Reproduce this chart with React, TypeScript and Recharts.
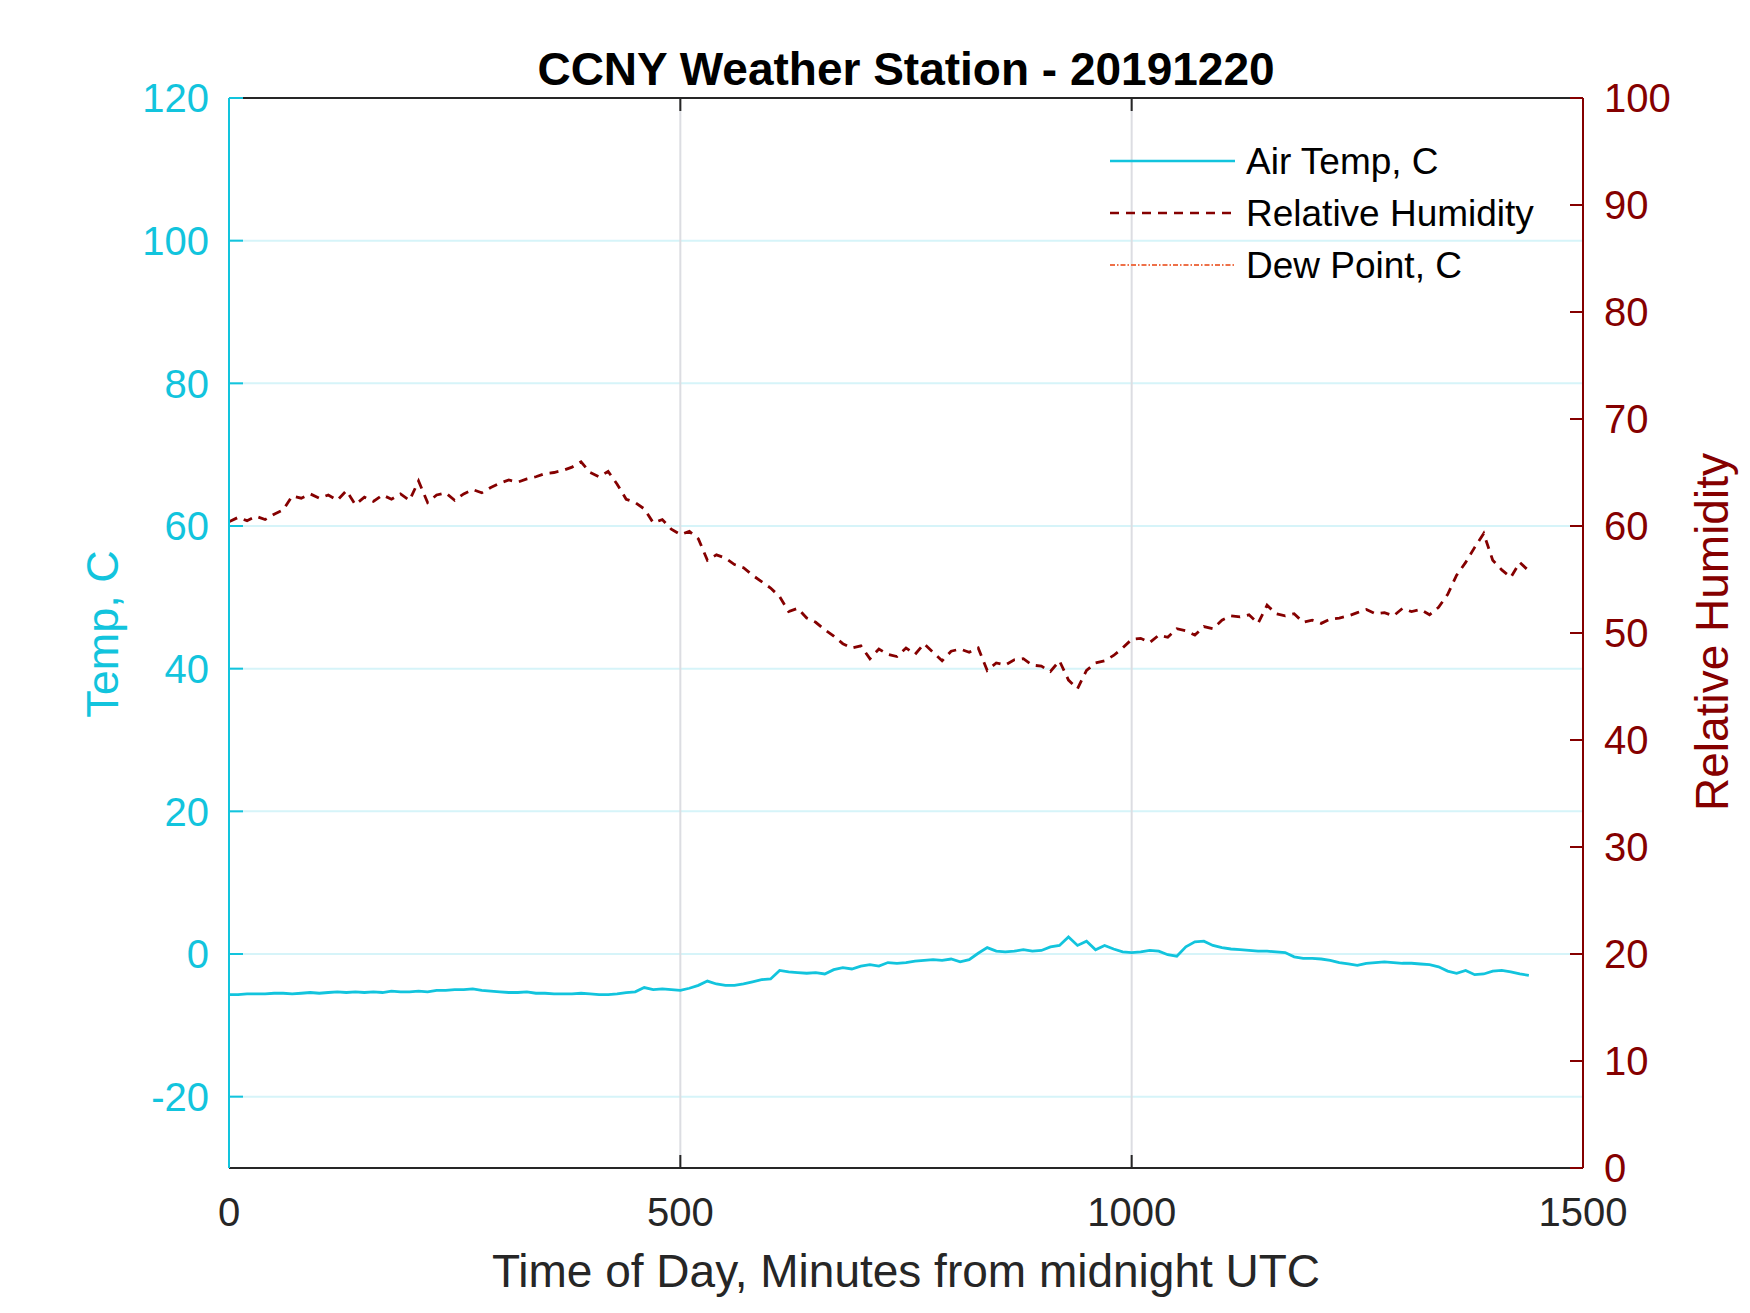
import { CartesianGrid, Legend, Line, LineChart, XAxis, YAxis } from "recharts";

const CYAN = "#12C4DD";
const DARK_RED = "#850000";
const ORANGE = "#EE7048";
const INK = "#262626";
const FONT = "'Liberation Sans', Arial, Helvetica, sans-serif";

// minutes from midnight UTC, sampled every 10 min
const minutes = [
  0, 10, 20, 30, 40, 50, 60, 70, 80, 90, 100, 110, 120, 130, 140, 150, 160, 170, 180, 190,
  200, 210, 220, 230, 240, 250, 260, 270, 280, 290, 300, 310, 320, 330, 340, 350, 360, 370, 380, 390,
  400, 410, 420, 430, 440, 450, 460, 470, 480, 490, 500, 510, 520, 530, 540, 550, 560, 570, 580, 590,
  600, 610, 620, 630, 640, 650, 660, 670, 680, 690, 700, 710, 720, 730, 740, 750, 760, 770, 780, 790,
  800, 810, 820, 830, 840, 850, 860, 870, 880, 890, 900, 910, 920, 930, 940, 950, 960, 970, 980, 990,
  1000, 1010, 1020, 1030, 1040, 1050, 1060, 1070, 1080, 1090, 1100, 1110, 1120, 1130, 1140, 1150, 1160, 1170, 1180, 1190,
  1200, 1210, 1220, 1230, 1240, 1250, 1260, 1270, 1280, 1290, 1300, 1310, 1320, 1330, 1340, 1350, 1360, 1370, 1380, 1390,
  1400, 1410, 1420, 1430, 1440,
];

const airTemp = [
  -5.7, -5.7, -5.6, -5.6, -5.6, -5.5, -5.5, -5.6, -5.5, -5.4, -5.5, -5.4, -5.3, -5.4, -5.3, -5.4, -5.3, -5.4, -5.2, -5.3,
  -5.3, -5.2, -5.3, -5.1, -5.1, -5.0, -5.0, -4.9, -5.1, -5.2, -5.3, -5.4, -5.4, -5.3, -5.5, -5.5, -5.6, -5.6, -5.6, -5.5,
  -5.6, -5.7, -5.7, -5.6, -5.4, -5.3, -4.7, -5.0, -4.9, -5.0, -5.1, -4.8, -4.4, -3.8, -4.2, -4.4, -4.4, -4.2, -3.9, -3.6,
  -3.5, -2.3, -2.5, -2.6, -2.7, -2.6, -2.8, -2.2, -1.9, -2.1, -1.7, -1.5, -1.7, -1.2, -1.3, -1.2, -1.0, -0.9, -0.8, -0.9,
  -0.7, -1.1, -0.8, 0.1, 0.9, 0.4, 0.3, 0.4, 0.6, 0.4, 0.5, 1.0, 1.2, 2.4, 1.2, 1.8, 0.6, 1.2, 0.7, 0.3,
  0.2, 0.3, 0.5, 0.4, -0.1, -0.3, 1.0, 1.7, 1.8, 1.2, 0.9, 0.7, 0.6, 0.5, 0.4, 0.4, 0.3, 0.2, -0.4, -0.6,
  -0.6, -0.7, -0.9, -1.2, -1.4, -1.6, -1.3, -1.2, -1.1, -1.2, -1.3, -1.3, -1.4, -1.5, -1.8, -2.4, -2.7, -2.3, -2.9, -2.8,
  -2.4, -2.3, -2.5, -2.8, -3.0,
];

const humidity = [
  60.4, 60.8, 60.5, 60.9, 60.6, 61.1, 61.5, 62.8, 62.6, 63.0, 62.6, 62.9, 62.4, 63.3, 62.0, 62.7, 62.3, 62.9, 62.5, 63.0,
  62.4, 64.2, 62.2, 62.9, 63.1, 62.4, 63.0, 63.4, 63.1, 63.6, 64.0, 64.3, 64.1, 64.4, 64.6, 64.9, 65.0, 65.2, 65.5, 66.0,
  65.0, 64.6, 65.1, 63.9, 62.5, 62.2, 61.6, 60.3, 60.6, 59.7, 59.2, 59.5, 58.8, 56.8, 57.3, 57.0, 56.4, 56.1, 55.4, 54.8,
  54.2, 53.4, 52.0, 52.3, 51.4, 51.0, 50.3, 49.7, 49.0, 48.6, 48.8, 47.6, 48.5, 48.0, 47.8, 48.6, 48.0, 49.0, 48.2, 47.4,
  48.3, 48.5, 48.2, 48.6, 46.5, 47.2, 47.0, 47.5, 47.6, 47.0, 46.9, 46.4, 47.4, 45.6, 44.8, 46.5, 47.2, 47.4, 47.9, 48.6,
  49.4, 49.5, 49.1, 49.8, 49.6, 50.4, 50.2, 49.8, 50.6, 50.4, 51.2, 51.6, 51.5, 51.7, 50.9, 52.6, 51.8, 51.6, 51.8, 51.0,
  51.2, 50.9, 51.3, 51.4, 51.6, 51.9, 52.2, 51.8, 51.9, 51.6, 52.3, 52.0, 52.2, 51.7, 52.4, 53.6, 55.4, 56.6, 58.0, 59.3,
  56.8, 55.9, 55.2, 56.6, 55.8,
];

const xTicks = [0, 500, 1000, 1500];
const tempTicks = [-20, 0, 20, 40, 60, 80, 100, 120];
const rhTicks = [0, 10, 20, 30, 40, 50, 60, 70, 80, 90, 100];

const legendItems = [
  { label: "Air Temp, C", color: CYAN, dash: undefined, width: 2.5 },
  { label: "Relative Humidity", color: DARK_RED, dash: "9 7", width: 2.5 },
  { label: "Dew Point, C", color: ORANGE, dash: "5 2 1.5 2", width: 2 },
];

const rows = minutes.map((t, i) => ({ t, temp: airTemp[i], rh: humidity[i] }));

function LegendBox() {
  return (
    <div style={{ fontFamily: FONT }}>
      {legendItems.map((item) => (
        <div key={item.label} style={{ display: "flex", alignItems: "center", height: 52 }}>
          <svg width={135} height={10}>
            <line
              x1={10}
              x2={135}
              y1={5}
              y2={5}
              stroke={item.color}
              strokeWidth={item.width}
              strokeDasharray={item.dash}
            />
          </svg>
          <span style={{ marginLeft: 11, fontSize: 37, color: "#000", lineHeight: 1 }}>{item.label}</span>
        </div>
      ))}
    </div>
  );
}

export default function App() {
  return (
    <div
      style={{
        position: "absolute",
        left: 0,
        top: 0,
        width: 1750,
        height: 1313,
        background: "#fff",
        fontFamily: FONT,
      }}
    >
      <LineChart width={1750} height={1313} data={rows} margin={{ top: 68, right: 0, bottom: 0, left: 0 }}>
        <CartesianGrid xAxisId="bottom" yAxisId="left" vertical={false} stroke="#D6F4F9" strokeWidth={2} />
        <CartesianGrid xAxisId="bottom" yAxisId="left" horizontal={false} stroke="#DCDDE2" strokeWidth={2} />
        <XAxis
          xAxisId="bottom"
          dataKey="t"
          type="number"
          domain={[0, 1500]}
          ticks={xTicks}
          interval={0}
          allowDataOverflow
          height={145}
          tickSize={-13}
          tickMargin={43}
          axisLine={{ stroke: INK, strokeWidth: 2 }}
          tickLine={{ stroke: INK, strokeWidth: 2 }}
          tick={{ fill: INK, fontSize: 40 }}
        />
        <XAxis
          xAxisId="top"
          orientation="top"
          dataKey="t"
          type="number"
          domain={[0, 1500]}
          ticks={xTicks}
          interval={0}
          allowDataOverflow
          height={30}
          tickSize={-13}
          tick={() => <g />}
          axisLine={{ stroke: INK, strokeWidth: 2 }}
          tickLine={{ stroke: INK, strokeWidth: 2 }}
        />
        <YAxis
          yAxisId="left"
          orientation="left"
          width={229}
          type="number"
          domain={[-30, 120]}
          ticks={tempTicks}
          interval={0}
          allowDataOverflow
          tickSize={-14}
          tickMargin={34}
          axisLine={{ stroke: CYAN, strokeWidth: 2 }}
          tickLine={{ stroke: CYAN, strokeWidth: 2 }}
          tick={{ fill: CYAN, fontSize: 40 }}
        />
        <YAxis
          yAxisId="right"
          orientation="right"
          width={167}
          type="number"
          domain={[0, 100]}
          ticks={rhTicks}
          interval={0}
          allowDataOverflow
          tickSize={-13}
          tickMargin={34}
          axisLine={{ stroke: DARK_RED, strokeWidth: 2 }}
          tickLine={{ stroke: DARK_RED, strokeWidth: 2 }}
          tick={{ fill: DARK_RED, fontSize: 40 }}
        />
        <Legend
          layout="vertical"
          align="center"
          verticalAlign="middle"
          content={() => <LegendBox />}
          wrapperStyle={{ left: 1100, top: 135, width: 500, height: 156 }}
        />
        <Line
          xAxisId="bottom"
          yAxisId="left"
          dataKey="temp"
          type="linear"
          stroke={CYAN}
          strokeWidth={2.8}
          dot={false}
          isAnimationActive={false}
        />
        <Line
          xAxisId="bottom"
          yAxisId="right"
          dataKey="rh"
          type="linear"
          stroke={DARK_RED}
          strokeWidth={2.8}
          strokeDasharray="9 7"
          dot={false}
          isAnimationActive={false}
        />
      </LineChart>
      <svg
        width={1750}
        height={1313}
        style={{ position: "absolute", left: 0, top: 0, pointerEvents: "none" }}
      >
        <text x={906} y={85} textAnchor="middle" fontSize={46} fontWeight="bold" fill="#000">
          CCNY Weather Station - 20191220
        </text>
        <text x={906} y={1287} textAnchor="middle" fontSize={46} fill={INK}>
          Time of Day, Minutes from midnight UTC
        </text>
        <text transform="translate(118,634) rotate(-90)" textAnchor="middle" fontSize={45} fill={CYAN}>
          Temp, C
        </text>
        <text transform="translate(1728,632) rotate(-90)" textAnchor="middle" fontSize={46} fill={DARK_RED}>
          Relative Humidity
        </text>
      </svg>
    </div>
  );
}
